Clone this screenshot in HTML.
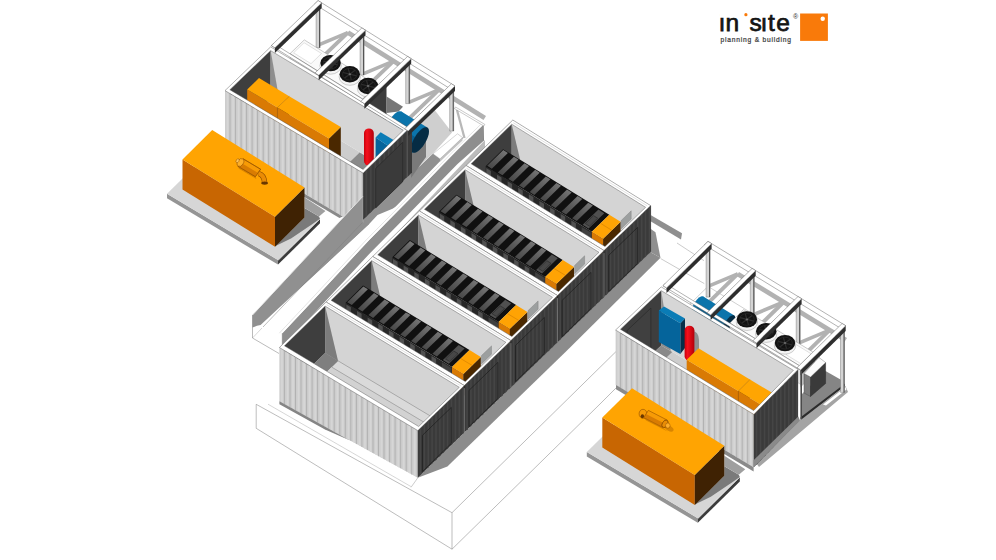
<!DOCTYPE html>
<html><head><meta charset="utf-8"><title>in site planning &amp; building</title>
<style>html,body{margin:0;padding:0;background:#fff;overflow:hidden}svg{display:block}text{font-family:"Liberation Sans",sans-serif}</style></head>
<body>
<svg width="996" height="560" viewBox="0 0 996 560">
<polyline points="256.2,404.3 452.0,512.7 640.0,328.0" fill="none" stroke="#7a7a7a" stroke-width="0.5"/>
<polyline points="256.2,404.3 256.2,428.3 452.0,549.2 452.0,512.7" fill="none" stroke="#7a7a7a" stroke-width="0.5"/>
<polyline points="452.0,549.2 600.0,404.0 640.0,364.0" fill="none" stroke="#7a7a7a" stroke-width="0.5"/>
<line x1="417.8" y1="477.8" x2="411.0" y2="487.3" stroke="#8a8a8a" stroke-width="0.45"/>
<line x1="268.0" y1="404.2" x2="411.0" y2="486.6" stroke="#9a9a9a" stroke-width="0.4"/>
<line x1="677.0" y1="243.0" x2="704.0" y2="260.7" stroke="#8a8a8a" stroke-width="0.45"/>
<line x1="660.7" y1="258.6" x2="704.3" y2="283.6" stroke="#8a8a8a" stroke-width="0.45"/>
<polygon points="485.0,140.0 485.0,149.0 375.0,256.0" fill="#bcbcbc"/>
<polygon points="282.3,333.2 314.0,299.4 369.2,240.0 408.2,200.6 457.5,150.0 483.5,124.6 484.0,140.6 457.5,164.0 408.2,214.6 369.2,254.0 314.0,313.4 282.3,347.2" fill="#8e8e8e"/>
<polygon points="345.0,240.0 363.0,215.0 413.0,171.5 420.0,166.0 433.0,153.5 440.0,158.8 462.5,137.5 471.5,138.0 406.2,200.6 392.5,208.8 377.5,215.0 369.4,223.8 300.0,288.0" fill="#909090"/>
<polygon points="275.8,333.2 307.5,299.4 362.7,240.0 401.7,200.6 451.0,150.0 477.0,124.6 483.5,124.6 457.5,150.0 408.2,200.6 369.2,240.0 314.0,299.4 282.3,333.2" fill="#ffffff"/>
<polyline points="279.3,333.2 311.0,299.4 366.2,240.0 405.2,200.6 454.5,150.0 480.5,124.6" fill="none" stroke="#c9c9c9" stroke-width="0.5"/>
<line x1="282.3" y1="333.2" x2="282.3" y2="345.2" stroke="#777" stroke-width="0.5"/>
<line x1="483.5" y1="124.6" x2="483.5" y2="140.6" stroke="#777" stroke-width="0.4"/>
<polygon points="363.1,221.1 375.1,216.1 420.1,172.4 408.1,177.4" fill="#909090"/>
<polygon points="405.0,128.0 430.0,104.0 452.0,132.5 433.0,153.5 420.0,165.0 411.0,172.0" fill="#cfcfcf"/>
<polygon points="411.0,148.0 426.0,140.0 426.0,157.0 411.0,178.0" fill="#7a7a7a"/>
<polygon points="346.6,34.6 483.5,120.0 486.0,116.0 349.1,30.6" fill="#b2b2b2" stroke="none" stroke-width="0.35" stroke-linejoin="round"/>
<polygon points="318.8,46.8 348.5,34.3 347.2,30.9 317.4,43.4" fill="#b2b2b2" stroke="none" stroke-width="0.35" stroke-linejoin="round"/>
<polygon points="346.5,31.2 316.1,60.5 318.7,63.2 349.2,34.0" fill="#b2b2b2" stroke="none" stroke-width="0.35" stroke-linejoin="round"/>
<polygon points="364.4,75.2 394.2,62.7 392.8,59.4 363.0,71.9" fill="#b2b2b2" stroke="none" stroke-width="0.35" stroke-linejoin="round"/>
<polygon points="392.2,59.7 361.7,88.9 364.4,91.7 394.8,62.4" fill="#b2b2b2" stroke="none" stroke-width="0.35" stroke-linejoin="round"/>
<polygon points="410.1,103.7 439.8,91.2 438.4,87.9 408.7,100.4" fill="#b2b2b2" stroke="none" stroke-width="0.35" stroke-linejoin="round"/>
<polygon points="437.8,88.2 407.4,117.4 410.0,120.2 440.4,90.9" fill="#b2b2b2" stroke="none" stroke-width="0.35" stroke-linejoin="round"/>
<polygon points="316.1,3.2 320.1,3.2 320.1,47.7 316.1,47.7" fill="#d4d4d4" stroke="#666" stroke-width="0.4" stroke-linejoin="round"/>
<polygon points="319.1,3.2 320.1,3.2 320.1,47.7 319.1,47.7" fill="#4a4a4a"/>
<polygon points="360.1,30.6 364.1,30.6 364.1,75.1 360.1,75.1" fill="#d4d4d4" stroke="#666" stroke-width="0.4" stroke-linejoin="round"/>
<polygon points="363.1,30.6 364.1,30.6 364.1,75.1 363.1,75.1" fill="#4a4a4a"/>
<polygon points="405.7,59.1 409.7,59.1 409.7,103.6 405.7,103.6" fill="#d4d4d4" stroke="#666" stroke-width="0.4" stroke-linejoin="round"/>
<polygon points="408.7,59.1 409.7,59.1 409.7,103.6 408.7,103.6" fill="#4a4a4a"/>
<polygon points="449.7,86.6 453.7,86.6 453.7,131.1 449.7,131.1" fill="#d4d4d4" stroke="#666" stroke-width="0.4" stroke-linejoin="round"/>
<polygon points="452.7,86.6 453.7,86.6 453.7,131.1 452.7,131.1" fill="#4a4a4a"/>
<polygon points="290.1,53.6 362.6,98.9 362.6,116.7 290.1,71.4" fill="#e4e4e4" stroke="#999" stroke-width="0.4" stroke-linejoin="round"/>
<polygon points="362.6,98.9 376.9,85.1 376.9,105.2 362.6,118.9" fill="#bdbdbd" stroke="#888" stroke-width="0.4" stroke-linejoin="round"/>
<polygon points="290.1,53.6 304.3,39.9 376.9,85.1 362.6,98.9" fill="#fafafa" stroke="#8a8a8a" stroke-width="0.45" stroke-linejoin="round"/>
<polygon points="293.6,52.8 304.1,42.7 321.5,53.5 311.0,63.7" fill="#ffffff" stroke="#b5b5b5" stroke-width="0.4" stroke-linejoin="round"/>
<ellipse cx="330.6" cy="65.7" rx="10.7" ry="8.5" fill="#f4f4f4" stroke="#8a8a8a" stroke-width="0.4"/>
<ellipse cx="330.6" cy="63.1" rx="10.2" ry="8.2" fill="#131313"/>
<ellipse cx="330.6" cy="63.1" rx="7.3" ry="5.9" fill="none" stroke="#2b2b2b" stroke-width="0.7"/>
<line x1="330.6" y1="63.1" x2="337.4" y2="64.8" stroke="#2e2e2e" stroke-width="1.2"/>
<line x1="330.6" y1="63.1" x2="332.2" y2="68.7" stroke="#2e2e2e" stroke-width="1.2"/>
<line x1="330.6" y1="63.1" x2="325.4" y2="67.0" stroke="#2e2e2e" stroke-width="1.2"/>
<line x1="330.6" y1="63.1" x2="323.8" y2="61.4" stroke="#2e2e2e" stroke-width="1.2"/>
<line x1="330.6" y1="63.1" x2="329.0" y2="57.5" stroke="#2e2e2e" stroke-width="1.2"/>
<line x1="330.6" y1="63.1" x2="335.8" y2="59.2" stroke="#2e2e2e" stroke-width="1.2"/>
<ellipse cx="330.6" cy="63.1" rx="1.3" ry="1.0" fill="#6a6a6a"/>
<ellipse cx="349.8" cy="76.8" rx="10.7" ry="8.5" fill="#f4f4f4" stroke="#8a8a8a" stroke-width="0.4"/>
<ellipse cx="349.8" cy="74.2" rx="10.2" ry="8.2" fill="#131313"/>
<ellipse cx="349.8" cy="74.2" rx="7.3" ry="5.9" fill="none" stroke="#2b2b2b" stroke-width="0.7"/>
<line x1="349.8" y1="74.2" x2="356.6" y2="75.9" stroke="#2e2e2e" stroke-width="1.2"/>
<line x1="349.8" y1="74.2" x2="351.3" y2="79.8" stroke="#2e2e2e" stroke-width="1.2"/>
<line x1="349.8" y1="74.2" x2="344.5" y2="78.1" stroke="#2e2e2e" stroke-width="1.2"/>
<line x1="349.8" y1="74.2" x2="342.9" y2="72.5" stroke="#2e2e2e" stroke-width="1.2"/>
<line x1="349.8" y1="74.2" x2="348.2" y2="68.6" stroke="#2e2e2e" stroke-width="1.2"/>
<line x1="349.8" y1="74.2" x2="355.0" y2="70.3" stroke="#2e2e2e" stroke-width="1.2"/>
<ellipse cx="349.8" cy="74.2" rx="1.3" ry="1.0" fill="#6a6a6a"/>
<ellipse cx="368.1" cy="88.6" rx="10.7" ry="8.5" fill="#f4f4f4" stroke="#8a8a8a" stroke-width="0.4"/>
<ellipse cx="368.1" cy="86.0" rx="10.2" ry="8.2" fill="#131313"/>
<ellipse cx="368.1" cy="86.0" rx="7.3" ry="5.9" fill="none" stroke="#2b2b2b" stroke-width="0.7"/>
<line x1="368.1" y1="86.0" x2="374.9" y2="87.7" stroke="#2e2e2e" stroke-width="1.2"/>
<line x1="368.1" y1="86.0" x2="369.7" y2="91.6" stroke="#2e2e2e" stroke-width="1.2"/>
<line x1="368.1" y1="86.0" x2="362.9" y2="89.9" stroke="#2e2e2e" stroke-width="1.2"/>
<line x1="368.1" y1="86.0" x2="361.3" y2="84.3" stroke="#2e2e2e" stroke-width="1.2"/>
<line x1="368.1" y1="86.0" x2="366.5" y2="80.4" stroke="#2e2e2e" stroke-width="1.2"/>
<line x1="368.1" y1="86.0" x2="373.3" y2="82.1" stroke="#2e2e2e" stroke-width="1.2"/>
<ellipse cx="368.1" cy="86.0" rx="1.3" ry="1.0" fill="#6a6a6a"/>
<polygon points="386.6,96.5 403.0,106.8 398.5,111.5 386.6,113.0" fill="#777777"/>
<polygon points="367.2,104.5 386.5,85.9 386.5,129.0 367.2,147.7" fill="#3c3c3c"/>
<polygon points="403.0,115.4 402.9,114.0 402.6,112.9 402.0,112.0 401.3,111.5 400.4,111.2 399.3,111.3 398.1,111.6 396.8,112.3 395.4,113.3 394.0,114.5 392.6,116.0 391.2,117.6 389.9,119.4 388.7,121.4 387.6,123.4 386.7,125.4 386.0,127.3 385.4,129.2 385.1,131.0 385.0,132.6 385.1,134.0 385.4,135.1 386.0,136.0 386.7,136.5 387.6,136.8 388.7,136.7 389.9,136.4 391.2,135.7 392.6,134.7 394.0,133.5 395.4,132.0 396.8,130.4 398.1,128.6 399.3,126.6 400.4,124.6 401.3,122.6 402.0,120.7 402.6,118.8 402.9,117.0" fill="#0b74ab"/>
<polygon points="427.3,127.5 401.3,111.5 386.7,136.5 412.7,152.5" fill="#0b74ab"/>
<polygon points="412.7,152.5 386.7,136.5 394.0,124.0 420.0,140.0" fill="#075e8f"/>
<polygon points="429.0,131.4 428.9,130.0 428.6,128.9 428.0,128.0 427.3,127.5 426.4,127.2 425.3,127.3 424.1,127.6 422.8,128.3 421.4,129.3 420.0,130.5 418.6,132.0 417.2,133.6 415.9,135.4 414.7,137.4 413.6,139.4 412.7,141.4 412.0,143.3 411.4,145.2 411.1,147.0 411.0,148.6 411.1,150.0 411.4,151.1 412.0,152.0 412.7,152.5 413.6,152.8 414.7,152.7 415.9,152.4 417.2,151.7 418.6,150.7 420.0,149.5 421.4,148.0 422.8,146.4 424.1,144.6 425.3,142.6 426.4,140.6 427.3,138.6 428.0,136.7 428.6,134.8 428.9,133.0" fill="#052c44"/>
<polygon points="229.8,137.7 270.6,98.6 403.3,178.3 363.1,217.4" fill="#cdcdcd"/>
<polygon points="270.6,50.6 403.3,130.3 403.3,178.3 270.6,98.6" fill="#d6d6d6"/>
<polygon points="229.8,89.7 270.6,50.6 270.6,98.6 229.8,137.7" fill="#3e3e3e"/>
<polygon points="270.6,50.6 280.2,104.4 270.6,98.6" fill="#8e8e8e"/>
<polygon points="330.8,180.6 359.7,152.6 372.4,160.2 343.5,188.2" fill="#8a8a8a"/>
<polygon points="247.2,89.5 277.4,107.6 277.4,151.5 247.2,133.4" fill="#d97a04"/>
<polygon points="277.4,107.6 289.2,96.2 289.2,140.1 277.4,151.5" fill="#4a2800"/>
<polygon points="247.2,89.5 259.0,78.1 289.2,96.2 277.4,107.6" fill="#ffa502"/>
<polygon points="277.4,107.6 329.0,138.4 329.0,182.3 277.4,151.5" fill="#d97a04"/>
<polygon points="329.0,138.4 340.8,127.1 340.8,171.0 329.0,182.3" fill="#4a2800"/>
<polygon points="277.4,107.6 289.2,96.2 340.8,127.1 329.0,138.4" fill="#ffa502"/>
<line x1="277.4" y1="107.6" x2="289.2" y2="96.2" stroke="#c97a00" stroke-width="0.5"/>
<line x1="277.4" y1="107.6" x2="277.4" y2="137.1" stroke="#a85c00" stroke-width="0.5"/>
<polygon points="375.6,137.5 388.8,146.2 388.8,170.0 375.6,170.0" fill="#05649b"/>
<polygon points="375.6,137.5 380.6,132.2 394.4,140.6 388.8,146.2" fill="#0a7cb6"/>
<defs><linearGradient id="redg" x1="0" x2="1" y1="0" y2="0"><stop offset="0" stop-color="#c8000c"/><stop offset="0.3" stop-color="#f5101c"/><stop offset="1" stop-color="#b4000a"/></linearGradient></defs>
<rect x="364" y="128.5" width="9.8" height="37" rx="4.9" ry="4.5" fill="url(#redg)"/>
<polygon points="225.0,90.6 363.1,173.1 363.1,228.6 225.0,146.1" fill="#cdcdcd"/>
<polygon points="226.7,91.6 228.4,92.6 228.4,148.1 226.7,147.1" fill="#d6d6d6"/>
<polygon points="229.5,93.3 230.5,93.9 230.5,149.4 229.5,148.8" fill="#b2b2b2"/>
<polygon points="232.2,94.9 233.9,95.9 233.9,151.4 232.2,150.4" fill="#d6d6d6"/>
<polygon points="235.1,96.6 236.0,97.2 236.0,152.7 235.1,152.1" fill="#b2b2b2"/>
<polygon points="237.7,98.2 239.5,99.2 239.5,154.7 237.7,153.7" fill="#d6d6d6"/>
<polygon points="240.6,99.9 241.6,100.5 241.6,156.0 240.6,155.4" fill="#b2b2b2"/>
<polygon points="243.2,101.5 245.0,102.5 245.0,158.0 243.2,157.0" fill="#d6d6d6"/>
<polygon points="246.1,103.2 247.1,103.8 247.1,159.3 246.1,158.7" fill="#b2b2b2"/>
<polygon points="248.8,104.8 250.5,105.8 250.5,161.3 248.8,160.3" fill="#d6d6d6"/>
<polygon points="251.6,106.5 252.6,107.1 252.6,162.6 251.6,162.0" fill="#b2b2b2"/>
<polygon points="254.3,108.1 256.0,109.1 256.0,164.6 254.3,163.6" fill="#d6d6d6"/>
<polygon points="257.1,109.8 258.1,110.4 258.1,165.9 257.1,165.3" fill="#b2b2b2"/>
<polygon points="259.8,111.4 261.6,112.4 261.6,167.9 259.8,166.9" fill="#d6d6d6"/>
<polygon points="262.7,113.1 263.7,113.7 263.7,169.2 262.7,168.6" fill="#b2b2b2"/>
<polygon points="265.3,114.7 267.1,115.7 267.1,171.2 265.3,170.2" fill="#d6d6d6"/>
<polygon points="268.2,116.4 269.2,117.0 269.2,172.5 268.2,171.9" fill="#b2b2b2"/>
<polygon points="270.8,118.0 272.6,119.0 272.6,174.5 270.8,173.5" fill="#d6d6d6"/>
<polygon points="273.7,119.7 274.7,120.3 274.7,175.8 273.7,175.2" fill="#b2b2b2"/>
<polygon points="276.4,121.3 278.1,122.3 278.1,177.8 276.4,176.8" fill="#d6d6d6"/>
<polygon points="279.2,123.0 280.2,123.6 280.2,179.1 279.2,178.5" fill="#b2b2b2"/>
<polygon points="281.9,124.6 283.7,125.6 283.7,181.1 281.9,180.1" fill="#d6d6d6"/>
<polygon points="284.8,126.3 285.8,126.9 285.8,182.4 284.8,181.8" fill="#b2b2b2"/>
<polygon points="287.4,127.9 289.2,128.9 289.2,184.4 287.4,183.4" fill="#d6d6d6"/>
<polygon points="290.3,129.6 291.3,130.2 291.3,185.7 290.3,185.1" fill="#b2b2b2"/>
<polygon points="292.9,131.2 294.7,132.2 294.7,187.7 292.9,186.7" fill="#d6d6d6"/>
<polygon points="295.8,132.9 296.8,133.5 296.8,189.0 295.8,188.4" fill="#b2b2b2"/>
<polygon points="298.5,134.5 300.2,135.5 300.2,191.0 298.5,190.0" fill="#d6d6d6"/>
<polygon points="301.3,136.2 302.3,136.8 302.3,192.3 301.3,191.7" fill="#b2b2b2"/>
<polygon points="304.0,137.8 305.8,138.8 305.8,194.3 304.0,193.3" fill="#d6d6d6"/>
<polygon points="306.9,139.5 307.9,140.1 307.9,195.6 306.9,195.0" fill="#b2b2b2"/>
<polygon points="309.5,141.1 311.3,142.1 311.3,197.6 309.5,196.6" fill="#d6d6d6"/>
<polygon points="312.4,142.8 313.4,143.4 313.4,198.9 312.4,198.3" fill="#b2b2b2"/>
<polygon points="315.0,144.4 316.8,145.4 316.8,200.9 315.0,199.9" fill="#d6d6d6"/>
<polygon points="317.9,146.1 318.9,146.7 318.9,202.2 317.9,201.6" fill="#b2b2b2"/>
<polygon points="320.6,147.7 322.3,148.7 322.3,204.2 320.6,203.2" fill="#d6d6d6"/>
<polygon points="323.4,149.4 324.4,150.0 324.4,205.5 323.4,204.9" fill="#b2b2b2"/>
<polygon points="326.1,151.0 327.9,152.0 327.9,207.5 326.1,206.5" fill="#d6d6d6"/>
<polygon points="329.0,152.7 330.0,153.3 330.0,208.8 329.0,208.2" fill="#b2b2b2"/>
<polygon points="331.6,154.3 333.4,155.3 333.4,210.8 331.6,209.8" fill="#d6d6d6"/>
<polygon points="334.5,156.0 335.5,156.6 335.5,212.1 334.5,211.5" fill="#b2b2b2"/>
<polygon points="337.1,157.6 338.9,158.6 338.9,214.1 337.1,213.1" fill="#d6d6d6"/>
<polygon points="340.0,159.3 341.0,159.9 341.0,215.4 340.0,214.8" fill="#b2b2b2"/>
<polygon points="342.7,160.9 344.4,161.9 344.4,217.4 342.7,216.4" fill="#d6d6d6"/>
<polygon points="345.5,162.6 346.5,163.2 346.5,218.7 345.5,218.1" fill="#b2b2b2"/>
<polygon points="348.2,164.2 350.0,165.2 350.0,220.7 348.2,219.7" fill="#d6d6d6"/>
<polygon points="351.1,165.9 352.1,166.5 352.1,222.0 351.1,221.4" fill="#b2b2b2"/>
<polygon points="353.7,167.5 355.5,168.5 355.5,224.0 353.7,223.0" fill="#d6d6d6"/>
<polygon points="356.6,169.2 357.6,169.8 357.6,225.3 356.6,224.7" fill="#b2b2b2"/>
<polygon points="359.2,170.8 361.0,171.8 361.0,227.3 359.2,226.3" fill="#d6d6d6"/>
<polygon points="362.1,172.5 363.1,173.1 363.1,228.6 362.1,228.0" fill="#b2b2b2"/>
<polygon points="363.1,173.1 408.1,129.4 408.1,176.0 363.1,219.7" fill="#3a3a3a"/>
<polygon points="365.4,170.9 367.2,169.2 367.2,215.7 365.4,217.5" fill="#454545"/>
<polygon points="369.9,166.5 371.7,164.8 371.7,211.4 369.9,213.1" fill="#454545"/>
<polygon points="374.4,162.2 376.1,160.4 376.1,207.0 374.4,208.7" fill="#454545"/>
<polygon points="378.9,157.8 380.7,156.1 380.7,202.6 378.9,204.4" fill="#454545"/>
<polygon points="383.4,153.4 385.2,151.7 385.2,198.2 383.4,200.0" fill="#454545"/>
<polygon points="387.9,149.1 389.7,147.3 389.7,193.9 387.9,195.6" fill="#454545"/>
<polygon points="392.4,144.7 394.2,142.9 394.2,189.5 392.4,191.3" fill="#454545"/>
<polygon points="396.9,140.3 398.7,138.6 398.7,185.1 396.9,186.9" fill="#454545"/>
<polygon points="401.4,136.0 403.1,134.2 403.1,180.8 401.4,182.5" fill="#454545"/>
<polygon points="405.9,131.6 407.7,129.8 407.7,176.4 405.9,178.1" fill="#454545"/>
<polygon points="375.7,168.5 402.7,142.3 402.7,181.7 375.7,207.9" fill="#3a3a3a" stroke="#262626" stroke-width="0.7" stroke-linejoin="round"/>
<line x1="408.1" y1="129.4" x2="408.1" y2="177.4" stroke="#9a9a9a" stroke-width="1.0"/>
<polygon points="300.0,190.9 342.8,216.4 339.5,218.1 300.0,194.6" fill="#8a8a8a"/>
<polygon points="407.6,130.0 412.0,132.6 412.0,172.6 407.6,177.0" fill="#3a3a3a"/>
<path d="M225.0 90.6 L270.6 46.9 L408.1 129.4 L363.1 173.1 Z M229.8 89.7 L270.6 50.6 L403.3 130.3 L363.1 169.4 Z" fill="#ffffff" fill-rule="evenodd" stroke="#555" stroke-width="0.45" stroke-linejoin="miter"/>
<polygon points="314.5,4.1 318.1,0.6 455.0,86.0 451.4,89.5" fill="#ffffff" stroke="#555" stroke-width="0.45" stroke-linejoin="round"/>
<polygon points="271.3,45.6 273.5,43.5 410.4,128.9 408.2,131.0" fill="#ffffff" stroke="#555" stroke-width="0.45" stroke-linejoin="round"/>
<polygon points="274.9,47.8 321.7,2.8 321.7,8.0 274.9,53.0" fill="#2e2e2e"/>
<polygon points="271.3,45.6 318.1,0.6 321.7,2.8 274.9,47.8" fill="#ffffff" stroke="#555" stroke-width="0.45" stroke-linejoin="round"/>
<polygon points="318.7,75.2 365.5,30.2 365.5,35.3 318.7,80.3" fill="#2e2e2e"/>
<polygon points="315.1,72.9 361.9,27.9 365.5,30.2 318.7,75.2" fill="#ffffff" stroke="#555" stroke-width="0.45" stroke-linejoin="round"/>
<polygon points="364.4,103.7 411.2,58.7 411.2,63.8 364.4,108.8" fill="#2e2e2e"/>
<polygon points="360.8,101.4 407.6,56.4 411.2,58.7 364.4,103.7" fill="#ffffff" stroke="#555" stroke-width="0.45" stroke-linejoin="round"/>
<polygon points="408.2,131.0 455.0,86.0 455.0,91.1 408.2,136.1" fill="#2e2e2e"/>
<polygon points="404.6,128.8 451.4,83.8 455.0,86.0 408.2,131.0" fill="#ffffff" stroke="#555" stroke-width="0.45" stroke-linejoin="round"/>
<polygon points="440.0,158.8 462.5,137.5 462.5,140.5 440.0,161.8" fill="#c2c2c2"/>
<polygon points="433.0,153.8 457.5,133.8 462.5,137.5 440.0,158.8" fill="#ffffff" stroke="#999" stroke-width="0.4" stroke-linejoin="round"/>
<polygon points="455.9,110.3 463.4,138.3 465.6,137.7 458.1,109.7" fill="#b8b8b8" stroke="none" stroke-width="0.35" stroke-linejoin="round"/>
<polygon points="454.5,108.6 483.8,126.0 484.8,124.4 455.5,107.0" fill="#ffffff" stroke="#666" stroke-width="0.35" stroke-linejoin="round"/>
<polygon points="167.0,193.8 278.0,260.0 278.0,264.6 167.0,198.3" fill="#959595"/>
<polygon points="278.0,260.0 320.0,218.8 320.0,223.3 278.0,264.6" fill="#3c3c3c"/>
<polygon points="167.0,193.8 209.0,152.5 320.0,218.8 278.0,260.0" fill="#d6d6d6"/>
<line x1="278.3" y1="260.2" x2="320.0" y2="218.9" stroke="#f4f4f4" stroke-width="0.7"/>
<polygon points="275.0,246.2 304.5,217.5 304.5,208.0 319.0,216.6 320.0,218.7 311.0,225.0 291.0,238.5" fill="#7a7a7a"/>
<polygon points="304.6,197.5 325.5,211.0 319.0,216.6 304.6,208.0" fill="#9f9f9f"/>
<polygon points="182.5,159.4 275.0,216.8 275.0,246.8 182.5,189.4" fill="#c86602"/>
<polygon points="275.0,216.8 304.5,187.5 304.5,217.5 275.0,246.8" fill="#3f2203"/>
<polygon points="182.5,159.4 212.2,130.0 304.5,187.5 275.0,216.8" fill="#ffa402"/>
<polygon points="238.9,168.7 256.4,179.1 255.4,176.6 237.9,166.2" fill="#d98500"/>
<polygon points="243.1,158.8 260.6,169.2 255.4,176.6 237.9,166.2" fill="#f79b06" stroke="#8a4a00" stroke-width="0.55" stroke-linejoin="round"/>
<polygon points="240.5,162.5 258.0,172.9 255.4,176.6 237.9,166.2" fill="#d97c02"/>
<polygon points="243.1,158.8 260.6,169.2 255.4,176.6 237.9,166.2" fill="none" stroke="#8a4a00" stroke-width="0.55" stroke-linejoin="round"/>
<ellipse cx="240.5" cy="162.5" rx="2.9" ry="4.2" fill="#ffb028" stroke="#8a4a00" stroke-width="0.5" transform="rotate(32 240.5 162.5)"/>
<ellipse cx="237.6" cy="160.7" rx="1.4" ry="2.1" fill="#ffc45a" stroke="#8a4a00" stroke-width="0.45" transform="rotate(32 237.6 160.7)"/>
<path d="M258.6 173.5 q5.5 1.5 6 9" fill="none" stroke="#8a4a00" stroke-width="5.4" stroke-linecap="butt"/>
<path d="M258.6 173.5 q5.5 1.5 6 9" fill="none" stroke="#ea8c04" stroke-width="4.2" stroke-linecap="butt"/>
<ellipse cx="264.6" cy="183.1" rx="3.4" ry="1.7" fill="#6a3800"/>
<polygon points="252.5,315.0 362.8,196.4 362.8,222.5 369.4,223.8 260.6,325.0 257.0,325.8 252.5,327.5" fill="#909090"/>
<line x1="362.5" y1="222.5" x2="263.0" y2="327.0" stroke="#7f7f7f" stroke-width="0.5"/>
<polyline points="252.5,315.0 252.5,338.0 279.0,353.5" fill="none" stroke="#777" stroke-width="0.5"/>
<line x1="252.5" y1="338.0" x2="262.0" y2="328.0" stroke="#999" stroke-width="0.4"/>
<line x1="252.5" y1="315.0" x2="362.8" y2="196.4" stroke="#e8e8e8" stroke-width="0.9"/>
<defs><linearGradient id="rackg" gradientUnits="objectBoundingBox" x1="0" y1="1" x2="1" y2="0"><stop offset="0" stop-color="#444"/><stop offset="0.5" stop-color="#5c5c5c"/><stop offset="1" stop-color="#7a7a7a"/></linearGradient></defs>
<polygon points="417.8,477.8 447.4,466.4 565.5,352.0 660.5,257.8 650.1,251.9" fill="#8c8c8c"/>
<polygon points="650.1,221.0 651.0,215.2 682.0,233.2 681.0,239.6" fill="#8f8f8f"/>
<polygon points="650.1,228.6 655.5,232.3 660.5,257.8 650.1,251.9" fill="#8f8f8f"/>
<polygon points="466.1,165.5 512.8,120.0 650.6,205.6 604.0,250.6" fill="#d4d4d4"/>
<polygon points="471.1,210.8 511.7,171.2 645.6,253.3 605.0,292.9" fill="#dadada"/>
<polygon points="511.7,124.2 645.6,207.3 645.6,253.3 511.7,171.2" fill="#d4d4d4"/>
<polygon points="471.1,163.8 511.7,124.2 511.7,171.2 471.1,210.8" fill="#3e3e3e"/>
<polygon points="471.1,210.8 511.7,171.2 524.7,179.1 484.1,218.8" fill="#5a5a5a"/>
<polygon points="511.7,124.2 524.7,179.1 511.7,171.2" fill="#7c7c7c"/>
<polygon points="485.6,166.2 603.1,238.7 603.1,254.5 485.6,182.2" fill="#262626"/>
<polygon points="485.6,166.2 503.1,149.2 609.3,214.8 591.8,231.8" fill="#101010"/>
<polygon points="487.2,165.8 503.3,150.1 507.9,153.0 491.8,168.7" fill="url(#rackg)"/>
<polygon points="486.3,168.1 490.9,170.9 490.9,177.0 486.3,174.2" fill="#505050"/>
<polygon points="486.0,174.9 495.8,181.0 495.8,188.5 486.0,182.5" fill="#343434"/>
<polygon points="497.8,172.4 513.9,156.7 518.5,159.5 502.4,175.2" fill="url(#rackg)"/>
<polygon points="497.0,174.7 501.5,177.5 501.5,183.6 497.0,180.8" fill="#505050"/>
<polygon points="496.6,181.5 506.4,187.5 506.4,195.0 496.6,189.0" fill="#343434"/>
<polygon points="508.4,178.9 524.5,163.3 529.1,166.1 513.0,181.8" fill="url(#rackg)"/>
<polygon points="507.6,181.2 512.1,184.0 512.1,190.1 507.6,187.3" fill="#505050"/>
<polygon points="507.3,188.0 517.0,194.1 517.0,201.6 507.3,195.5" fill="#343434"/>
<polygon points="519.1,185.5 535.2,169.8 539.7,172.7 523.6,188.3" fill="url(#rackg)"/>
<polygon points="518.2,187.8 522.8,190.6 522.8,196.7 518.2,193.8" fill="#505050"/>
<polygon points="517.9,194.6 527.6,200.6 527.6,208.1 517.9,202.1" fill="#343434"/>
<polygon points="529.7,192.1 545.8,176.4 550.3,179.2 534.3,194.9" fill="url(#rackg)"/>
<polygon points="528.8,194.3 533.4,197.1 533.4,203.2 528.8,200.4" fill="#505050"/>
<polygon points="528.5,201.1 538.3,207.1 538.3,214.6 528.5,208.6" fill="#343434"/>
<polygon points="540.3,198.6 556.4,183.0 561.0,185.8 544.9,201.4" fill="url(#rackg)"/>
<polygon points="539.4,200.9 544.0,203.7 544.0,209.7 539.4,206.9" fill="#505050"/>
<polygon points="539.1,207.7 548.9,213.7 548.9,221.2 539.1,215.1" fill="#343434"/>
<polygon points="550.9,205.2 567.0,189.5 571.6,192.4 555.5,208.0" fill="url(#rackg)"/>
<polygon points="550.1,207.4 554.6,210.2 554.6,216.3 550.1,213.5" fill="#505050"/>
<polygon points="549.7,214.2 559.5,220.2 559.5,227.7 549.7,221.7" fill="#343434"/>
<polygon points="561.5,211.7 577.6,196.1 582.2,198.9 566.1,214.5" fill="url(#rackg)"/>
<polygon points="560.7,214.0 565.2,216.8 565.2,222.8 560.7,220.0" fill="#505050"/>
<polygon points="560.4,220.8 570.1,226.8 570.1,234.2 560.4,228.2" fill="#343434"/>
<polygon points="572.2,218.3 588.2,202.7 592.8,205.5 576.7,221.1" fill="url(#rackg)"/>
<polygon points="571.3,220.5 575.9,223.3 575.9,229.4 571.3,226.6" fill="#505050"/>
<polygon points="571.0,227.3 580.7,233.3 580.7,240.8 571.0,234.8" fill="#343434"/>
<polygon points="582.7,224.8 598.4,209.5 604.3,213.2 588.6,228.4" fill="#505050"/>
<polygon points="585.3,223.6 593.5,215.6 597.7,218.2 589.5,226.2" fill="#474747" stroke="#1e1e1e" stroke-width="0.5" stroke-linejoin="round"/>
<polygon points="581.7,226.9 591.3,232.8 591.3,247.2 581.7,241.4" fill="#404040"/>
<polygon points="591.8,231.8 603.1,238.7 603.1,261.5 591.8,254.5" fill="#d97a04"/>
<polygon points="603.1,238.7 620.6,221.8 620.6,244.5 603.1,261.5" fill="#4a2800"/>
<polygon points="591.8,231.8 609.3,214.8 620.6,221.8 603.1,238.7" fill="#ffa304"/>
<line x1="600.5" y1="223.3" x2="611.8" y2="230.3" stroke="#c97400" stroke-width="0.5"/>
<polygon points="621.2,220.5 631.2,210.8 631.2,219.1 621.2,228.8" fill="#9c9f9f" stroke="#7a7a7a" stroke-width="0.4" stroke-linejoin="round"/>
<polygon points="604.0,250.6 650.6,205.6 650.6,251.9 604.0,297.1" fill="#3a3a3a"/>
<polygon points="606.0,248.7 607.5,247.2 607.5,293.7 606.0,295.2" fill="#454545"/>
<polygon points="609.9,245.0 611.4,243.5 611.4,289.9 609.9,291.4" fill="#454545"/>
<polygon points="613.7,241.2 615.3,239.7 615.3,286.2 613.7,287.7" fill="#454545"/>
<polygon points="617.6,237.5 619.2,236.0 619.2,282.4 617.6,283.9" fill="#454545"/>
<polygon points="621.5,233.7 623.0,232.2 623.0,278.6 621.5,280.1" fill="#454545"/>
<polygon points="625.4,230.0 626.9,228.5 626.9,274.9 625.4,276.4" fill="#454545"/>
<polygon points="629.3,226.2 630.8,224.7 630.8,271.1 629.3,272.6" fill="#454545"/>
<polygon points="633.1,222.5 634.7,221.0 634.7,267.3 633.1,268.8" fill="#454545"/>
<polygon points="637.0,218.7 638.6,217.2 638.6,263.6 637.0,265.1" fill="#454545"/>
<polygon points="640.9,215.0 642.5,213.5 642.5,259.8 640.9,261.3" fill="#454545"/>
<polygon points="644.8,211.2 646.3,209.7 646.3,256.0 644.8,257.5" fill="#454545"/>
<polygon points="648.7,207.5 650.2,206.0 650.2,252.3 648.7,253.8" fill="#454545"/>
<polygon points="608.7,255.4 637.6,227.4 637.6,263.4 608.7,291.6" fill="none" stroke="#1c1c1c" stroke-width="0.7" stroke-linejoin="round"/>
<line x1="650.6" y1="205.6" x2="650.6" y2="251.6" stroke="#222" stroke-width="0.6"/>
<path d="M466.1 165.5 L512.8 120.0 L650.6 205.6 L604.0 250.6 Z M471.1 163.8 L511.7 124.2 L645.6 207.3 L605.0 246.5 Z" fill="#ffffff" fill-rule="evenodd" stroke="#555" stroke-width="0.45" stroke-linejoin="miter"/>
<line x1="513.2" y1="122.7" x2="647.1" y2="205.8" stroke="#b5b5b5" stroke-width="0.4"/>
<polygon points="419.4,211.0 466.1,165.5 604.0,250.6 557.5,295.6" fill="#d4d4d4"/>
<polygon points="424.4,256.3 465.1,216.6 599.0,298.3 558.5,338.0" fill="#dadada"/>
<polygon points="465.1,169.7 599.0,252.3 599.0,298.3 465.1,216.6" fill="#d4d4d4"/>
<polygon points="424.4,209.3 465.1,169.7 465.1,216.6 424.4,256.3" fill="#3e3e3e"/>
<polygon points="424.4,256.3 465.1,216.6 478.1,224.6 437.4,264.2" fill="#5a5a5a"/>
<polygon points="465.1,169.7 478.1,224.6 465.1,216.6" fill="#7c7c7c"/>
<polygon points="438.9,211.7 556.5,283.8 556.5,299.6 438.9,227.7" fill="#262626"/>
<polygon points="438.9,211.7 456.4,194.7 562.7,259.9 545.2,276.9" fill="#101010"/>
<polygon points="440.5,211.3 456.6,195.6 461.2,198.4 445.1,214.1" fill="url(#rackg)"/>
<polygon points="439.7,213.6 444.2,216.4 444.2,222.5 439.7,219.7" fill="#505050"/>
<polygon points="439.3,220.4 449.1,226.4 449.1,233.9 439.3,227.9" fill="#343434"/>
<polygon points="451.2,217.8 467.3,202.1 471.8,205.0 455.7,220.6" fill="url(#rackg)"/>
<polygon points="450.3,220.1 454.9,222.9 454.9,229.0 450.3,226.2" fill="#505050"/>
<polygon points="450.0,226.9 459.8,232.9 459.8,240.4 450.0,234.4" fill="#343434"/>
<polygon points="461.8,224.3 477.9,208.7 482.5,211.5 466.4,227.1" fill="url(#rackg)"/>
<polygon points="460.9,226.6 465.5,229.4 465.5,235.5 460.9,232.7" fill="#505050"/>
<polygon points="460.6,233.4 470.4,239.4 470.4,246.9 460.6,240.9" fill="#343434"/>
<polygon points="472.4,230.9 488.5,215.2 493.1,218.0 477.0,233.7" fill="url(#rackg)"/>
<polygon points="471.5,233.1 476.1,235.9 476.1,242.0 471.5,239.2" fill="#505050"/>
<polygon points="471.2,239.9 481.0,245.9 481.0,253.4 471.2,247.4" fill="#343434"/>
<polygon points="483.1,237.4 499.1,221.7 503.7,224.5 487.6,240.2" fill="url(#rackg)"/>
<polygon points="482.2,239.6 486.7,242.4 486.7,248.5 482.2,245.7" fill="#505050"/>
<polygon points="481.9,246.4 491.6,252.4 491.6,259.9 481.9,253.9" fill="#343434"/>
<polygon points="493.7,243.9 509.8,228.3 514.3,231.1 498.2,246.7" fill="url(#rackg)"/>
<polygon points="492.8,246.1 497.4,248.9 497.4,255.0 492.8,252.2" fill="#505050"/>
<polygon points="492.5,253.0 502.3,258.9 502.3,266.4 492.5,260.4" fill="#343434"/>
<polygon points="504.3,250.4 520.4,234.8 525.0,237.6 508.9,253.2" fill="url(#rackg)"/>
<polygon points="503.4,252.7 508.0,255.5 508.0,261.5 503.4,258.7" fill="#505050"/>
<polygon points="503.1,259.5 512.9,265.4 512.9,272.9 503.1,266.9" fill="#343434"/>
<polygon points="514.9,256.9 531.0,241.3 535.6,244.1 519.5,259.7" fill="url(#rackg)"/>
<polygon points="514.1,259.2 518.6,262.0 518.6,268.0 514.1,265.2" fill="#505050"/>
<polygon points="513.7,266.0 523.5,272.0 523.5,279.4 513.7,273.4" fill="#343434"/>
<polygon points="525.6,263.4 541.6,247.8 546.2,250.6 530.1,266.2" fill="url(#rackg)"/>
<polygon points="524.7,265.7 529.3,268.5 529.3,274.5 524.7,271.7" fill="#505050"/>
<polygon points="524.4,272.5 534.1,278.5 534.1,285.9 524.4,279.9" fill="#343434"/>
<polygon points="536.1,269.9 551.8,254.6 557.8,258.3 542.0,273.5" fill="#505050"/>
<polygon points="538.7,268.7 546.9,260.7 551.1,263.4 542.9,271.3" fill="#474747" stroke="#1e1e1e" stroke-width="0.5" stroke-linejoin="round"/>
<polygon points="535.1,272.1 544.7,277.9 544.7,292.3 535.1,286.5" fill="#404040"/>
<polygon points="545.2,276.9 556.5,283.8 556.5,306.5 545.2,299.6" fill="#d97a04"/>
<polygon points="556.5,283.8 574.0,266.9 574.0,289.5 556.5,306.5" fill="#4a2800"/>
<polygon points="545.2,276.9 562.7,259.9 574.0,266.9 556.5,283.8" fill="#ffa304"/>
<line x1="553.9" y1="268.4" x2="565.3" y2="275.3" stroke="#c97400" stroke-width="0.5"/>
<polygon points="574.6,265.5 584.6,255.8 584.6,264.1 574.6,273.8" fill="#9c9f9f" stroke="#7a7a7a" stroke-width="0.4" stroke-linejoin="round"/>
<polygon points="557.5,295.6 604.0,250.6 604.0,297.1 557.5,342.3" fill="#3a3a3a"/>
<polygon points="559.4,293.7 561.0,292.2 561.0,338.9 559.4,340.4" fill="#454545"/>
<polygon points="563.3,290.0 564.8,288.5 564.8,335.1 563.3,336.6" fill="#454545"/>
<polygon points="567.2,286.2 568.7,284.7 568.7,331.3 567.2,332.8" fill="#454545"/>
<polygon points="571.0,282.5 572.6,281.0 572.6,327.6 571.0,329.1" fill="#454545"/>
<polygon points="574.9,278.7 576.5,277.2 576.5,323.8 574.9,325.3" fill="#454545"/>
<polygon points="578.8,275.0 580.4,273.5 580.4,320.0 578.8,321.6" fill="#454545"/>
<polygon points="582.7,271.2 584.2,269.7 584.2,316.3 582.7,317.8" fill="#454545"/>
<polygon points="586.6,267.5 588.1,266.0 588.1,312.5 586.6,314.0" fill="#454545"/>
<polygon points="590.4,263.7 592.0,262.2 592.0,308.8 590.4,310.3" fill="#454545"/>
<polygon points="594.3,260.0 595.9,258.5 595.9,305.0 594.3,306.5" fill="#454545"/>
<polygon points="598.2,256.2 599.8,254.7 599.8,301.2 598.2,302.7" fill="#454545"/>
<polygon points="602.1,252.5 603.6,251.0 603.6,297.5 602.1,299.0" fill="#454545"/>
<polygon points="562.1,300.4 591.0,272.4 591.0,308.4 562.1,336.6" fill="none" stroke="#1c1c1c" stroke-width="0.7" stroke-linejoin="round"/>
<line x1="604.0" y1="250.6" x2="604.0" y2="296.6" stroke="#222" stroke-width="0.6"/>
<path d="M419.4 211.0 L466.1 165.5 L604.0 250.6 L557.5 295.6 Z M424.4 209.3 L465.1 169.7 L599.0 252.3 L558.5 291.5 Z" fill="#ffffff" fill-rule="evenodd" stroke="#555" stroke-width="0.45" stroke-linejoin="miter"/>
<line x1="466.6" y1="168.2" x2="600.5" y2="250.8" stroke="#b5b5b5" stroke-width="0.4"/>
<polygon points="372.7,256.5 419.4,211.0 557.5,295.6 510.9,340.6" fill="#d4d4d4"/>
<polygon points="377.7,301.8 418.4,262.1 552.5,343.3 511.9,383.0" fill="#dadada"/>
<polygon points="418.4,215.1 552.5,297.3 552.5,343.3 418.4,262.1" fill="#d4d4d4"/>
<polygon points="377.7,254.8 418.4,215.1 418.4,262.1 377.7,301.8" fill="#3e3e3e"/>
<polygon points="377.7,301.8 418.4,262.1 431.4,270.0 390.7,309.7" fill="#5a5a5a"/>
<polygon points="418.4,215.1 431.4,270.0 418.4,262.1" fill="#7c7c7c"/>
<polygon points="392.3,257.2 509.9,328.8 509.9,344.6 392.3,273.2" fill="#262626"/>
<polygon points="392.3,257.2 409.8,240.1 516.1,305.0 498.6,322.0" fill="#101010"/>
<polygon points="393.9,256.8 410.0,241.1 414.5,243.9 398.4,259.6" fill="url(#rackg)"/>
<polygon points="393.0,259.0 397.6,261.8 397.6,267.9 393.0,265.2" fill="#505050"/>
<polygon points="392.7,265.9 402.5,271.9 402.5,279.4 392.7,273.4" fill="#343434"/>
<polygon points="404.5,263.3 420.6,247.6 425.2,250.4 409.1,266.0" fill="url(#rackg)"/>
<polygon points="403.6,265.5 408.2,268.3 408.2,274.4 403.6,271.6" fill="#505050"/>
<polygon points="403.3,272.4 413.1,278.3 413.1,285.8 403.3,279.9" fill="#343434"/>
<polygon points="415.1,269.7 431.2,254.1 435.8,256.9 419.7,272.5" fill="url(#rackg)"/>
<polygon points="414.3,272.0 418.8,274.8 418.8,280.9 414.3,278.1" fill="#505050"/>
<polygon points="414.0,278.8 423.7,284.8 423.7,292.3 414.0,286.3" fill="#343434"/>
<polygon points="425.8,276.2 441.9,260.6 446.4,263.3 430.4,279.0" fill="url(#rackg)"/>
<polygon points="424.9,278.5 429.5,281.3 429.5,287.3 424.9,284.6" fill="#505050"/>
<polygon points="424.6,285.3 434.4,291.3 434.4,298.7 424.6,292.8" fill="#343434"/>
<polygon points="436.4,282.7 452.5,267.0 457.1,269.8 441.0,285.5" fill="url(#rackg)"/>
<polygon points="435.5,284.9 440.1,287.7 440.1,293.8 435.5,291.0" fill="#505050"/>
<polygon points="435.2,291.8 445.0,297.7 445.0,305.2 435.2,299.3" fill="#343434"/>
<polygon points="447.1,289.2 463.1,273.5 467.7,276.3 451.6,292.0" fill="url(#rackg)"/>
<polygon points="446.2,291.4 450.8,294.2 450.8,300.3 446.2,297.5" fill="#505050"/>
<polygon points="445.9,298.2 455.6,304.2 455.6,311.7 445.9,305.7" fill="#343434"/>
<polygon points="457.7,295.6 473.8,280.0 478.3,282.8 462.3,298.4" fill="url(#rackg)"/>
<polygon points="456.8,297.9 461.4,300.7 461.4,306.7 456.8,304.0" fill="#505050"/>
<polygon points="456.5,304.7 466.3,310.7 466.3,318.1 456.5,312.2" fill="#343434"/>
<polygon points="468.3,302.1 484.4,286.5 489.0,289.3 472.9,304.9" fill="url(#rackg)"/>
<polygon points="467.4,304.4 472.0,307.2 472.0,313.2 467.4,310.4" fill="#505050"/>
<polygon points="467.1,311.2 476.9,317.1 476.9,324.6 467.1,318.6" fill="#343434"/>
<polygon points="479.0,308.6 495.0,293.0 499.6,295.8 483.5,311.4" fill="url(#rackg)"/>
<polygon points="478.1,310.8 482.7,313.6 482.7,319.7 478.1,316.9" fill="#505050"/>
<polygon points="477.8,317.6 487.5,323.6 487.5,331.0 477.8,325.1" fill="#343434"/>
<polygon points="489.5,315.0 505.2,299.8 511.2,303.4 495.4,318.6" fill="#505050"/>
<polygon points="492.1,313.8 500.3,305.9 504.6,308.5 496.3,316.4" fill="#474747" stroke="#1e1e1e" stroke-width="0.5" stroke-linejoin="round"/>
<polygon points="488.5,317.2 498.1,323.0 498.1,337.4 488.5,331.6" fill="#404040"/>
<polygon points="498.6,322.0 509.9,328.8 509.9,351.6 498.6,344.7" fill="#d97a04"/>
<polygon points="509.9,328.8 527.4,311.9 527.4,334.6 509.9,351.6" fill="#4a2800"/>
<polygon points="498.6,322.0 516.1,305.0 527.4,311.9 509.9,328.8" fill="#ffa304"/>
<line x1="507.3" y1="313.5" x2="518.7" y2="320.4" stroke="#c97400" stroke-width="0.5"/>
<polygon points="528.1,310.6 538.1,300.9 538.1,309.2 528.1,318.9" fill="#9c9f9f" stroke="#7a7a7a" stroke-width="0.4" stroke-linejoin="round"/>
<polygon points="510.9,340.6 557.5,295.6 557.5,342.3 510.9,387.4" fill="#3a3a3a"/>
<polygon points="512.8,338.7 514.4,337.2 514.4,384.1 512.8,385.6" fill="#454545"/>
<polygon points="516.7,335.0 518.3,333.5 518.3,380.3 516.7,381.8" fill="#454545"/>
<polygon points="520.6,331.2 522.1,329.7 522.1,376.5 520.6,378.0" fill="#454545"/>
<polygon points="524.5,327.5 526.0,326.0 526.0,372.8 524.5,374.3" fill="#454545"/>
<polygon points="528.4,323.7 529.9,322.2 529.9,369.0 528.4,370.5" fill="#454545"/>
<polygon points="532.2,320.0 533.8,318.5 533.8,365.2 532.2,366.7" fill="#454545"/>
<polygon points="536.1,316.2 537.7,314.7 537.7,361.5 536.1,363.0" fill="#454545"/>
<polygon points="540.0,312.5 541.5,311.0 541.5,357.7 540.0,359.2" fill="#454545"/>
<polygon points="543.9,308.7 545.4,307.2 545.4,353.9 543.9,355.4" fill="#454545"/>
<polygon points="547.8,305.0 549.3,303.5 549.3,350.2 547.8,351.7" fill="#454545"/>
<polygon points="551.6,301.2 553.2,299.7 553.2,346.4 551.6,347.9" fill="#454545"/>
<polygon points="555.5,297.5 557.1,296.0 557.1,342.6 555.5,344.1" fill="#454545"/>
<polygon points="515.5,345.4 544.4,317.4 544.4,353.4 515.5,381.6" fill="none" stroke="#1c1c1c" stroke-width="0.7" stroke-linejoin="round"/>
<line x1="557.5" y1="295.6" x2="557.5" y2="341.6" stroke="#222" stroke-width="0.6"/>
<path d="M372.7 256.5 L419.4 211.0 L557.5 295.6 L510.9 340.6 Z M377.7 254.8 L418.4 215.1 L552.5 297.3 L511.9 336.5 Z" fill="#ffffff" fill-rule="evenodd" stroke="#555" stroke-width="0.45" stroke-linejoin="miter"/>
<line x1="419.9" y1="213.7" x2="554.0" y2="295.8" stroke="#b5b5b5" stroke-width="0.4"/>
<polygon points="326.1,302.0 372.7,256.5 510.9,340.6 464.3,385.6" fill="#d4d4d4"/>
<polygon points="331.1,347.3 371.7,307.6 505.9,388.3 465.3,428.0" fill="#dadada"/>
<polygon points="371.7,260.6 505.9,342.3 505.9,388.3 371.7,307.6" fill="#d4d4d4"/>
<polygon points="331.1,300.3 371.7,260.6 371.7,307.6 331.1,347.3" fill="#3e3e3e"/>
<polygon points="331.1,347.3 371.7,307.6 384.7,315.4 344.1,355.1" fill="#5a5a5a"/>
<polygon points="371.7,260.6 384.7,315.4 371.7,307.6" fill="#7c7c7c"/>
<polygon points="345.6,302.7 463.4,373.9 463.4,389.7 345.6,318.6" fill="#262626"/>
<polygon points="345.6,302.7 363.1,285.6 469.5,350.1 452.0,367.0" fill="#101010"/>
<polygon points="347.2,302.3 363.3,286.6 367.9,289.3 351.8,305.0" fill="url(#rackg)"/>
<polygon points="346.3,304.5 350.9,307.3 350.9,313.4 346.3,310.6" fill="#505050"/>
<polygon points="346.0,311.4 355.8,317.3 355.8,324.8 346.0,318.9" fill="#343434"/>
<polygon points="357.9,308.7 374.0,293.0 378.5,295.8 362.4,311.5" fill="url(#rackg)"/>
<polygon points="357.0,311.0 361.6,313.7 361.6,319.8 357.0,317.1" fill="#505050"/>
<polygon points="356.7,317.8 366.5,323.7 366.5,331.2 356.7,325.3" fill="#343434"/>
<polygon points="368.5,315.1 384.6,299.5 389.2,302.2 373.1,317.9" fill="url(#rackg)"/>
<polygon points="367.6,317.4 372.2,320.2 372.2,326.3 367.6,323.5" fill="#505050"/>
<polygon points="367.3,324.2 377.1,330.1 377.1,337.6 367.3,331.7" fill="#343434"/>
<polygon points="379.1,321.6 395.2,305.9 399.8,308.7 383.7,324.3" fill="url(#rackg)"/>
<polygon points="378.3,323.8 382.8,326.6 382.8,332.7 378.3,329.9" fill="#505050"/>
<polygon points="377.9,330.7 387.7,336.6 387.7,344.1 377.9,338.2" fill="#343434"/>
<polygon points="389.8,328.0 405.9,312.4 410.4,315.1 394.4,330.8" fill="url(#rackg)"/>
<polygon points="388.9,330.3 393.5,333.0 393.5,339.1 388.9,336.3" fill="#505050"/>
<polygon points="388.6,337.1 398.4,343.0 398.4,350.5 388.6,344.6" fill="#343434"/>
<polygon points="400.4,334.5 416.5,318.8 421.1,321.6 405.0,337.2" fill="url(#rackg)"/>
<polygon points="399.6,336.7 404.1,339.5 404.1,345.5 399.6,342.8" fill="#505050"/>
<polygon points="399.2,343.5 409.0,349.4 409.0,356.9 399.2,351.0" fill="#343434"/>
<polygon points="411.1,340.9 427.2,325.3 431.7,328.0 415.6,343.7" fill="url(#rackg)"/>
<polygon points="410.2,343.1 414.8,345.9 414.8,352.0 410.2,349.2" fill="#505050"/>
<polygon points="409.9,350.0 419.7,355.9 419.7,363.3 409.9,357.4" fill="#343434"/>
<polygon points="421.7,347.3 437.8,331.7 442.4,334.5 426.3,350.1" fill="url(#rackg)"/>
<polygon points="420.8,349.6 425.4,352.3 425.4,358.4 420.8,355.6" fill="#505050"/>
<polygon points="420.5,356.4 430.3,362.3 430.3,369.7 420.5,363.8" fill="#343434"/>
<polygon points="432.4,353.8 448.4,338.2 453.0,340.9 436.9,356.5" fill="url(#rackg)"/>
<polygon points="431.5,356.0 436.1,358.8 436.1,364.8 431.5,362.1" fill="#505050"/>
<polygon points="431.2,362.8 441.0,368.7 441.0,376.2 431.2,370.3" fill="#343434"/>
<polygon points="442.9,360.1 458.6,344.9 464.6,348.5 448.9,363.7" fill="#505050"/>
<polygon points="445.5,359.0 453.7,351.0 458.0,353.6 449.7,361.5" fill="#474747" stroke="#1e1e1e" stroke-width="0.5" stroke-linejoin="round"/>
<polygon points="441.9,362.3 451.5,368.1 451.5,382.5 441.9,376.7" fill="#404040"/>
<polygon points="452.0,367.0 463.4,373.9 463.4,396.6 452.0,389.8" fill="#d97a04"/>
<polygon points="463.4,373.9 480.8,357.0 480.8,379.6 463.4,396.6" fill="#4a2800"/>
<polygon points="452.0,367.0 469.5,350.1 480.8,357.0 463.4,373.9" fill="#ffa304"/>
<line x1="460.8" y1="358.6" x2="472.1" y2="365.4" stroke="#c97400" stroke-width="0.5"/>
<polygon points="481.5,355.6 491.5,345.9 491.5,354.2 481.5,363.9" fill="#9c9f9f" stroke="#7a7a7a" stroke-width="0.4" stroke-linejoin="round"/>
<polygon points="464.3,385.6 510.9,340.6 510.9,387.4 464.3,432.6" fill="#3a3a3a"/>
<polygon points="466.3,383.7 467.8,382.2 467.8,429.2 466.3,430.7" fill="#454545"/>
<polygon points="470.1,380.0 471.7,378.5 471.7,425.5 470.1,427.0" fill="#454545"/>
<polygon points="474.0,376.2 475.6,374.7 475.6,421.7 474.0,423.2" fill="#454545"/>
<polygon points="477.9,372.5 479.5,371.0 479.5,417.9 477.9,419.4" fill="#454545"/>
<polygon points="481.8,368.7 483.3,367.2 483.3,414.2 481.8,415.7" fill="#454545"/>
<polygon points="485.7,365.0 487.2,363.5 487.2,410.4 485.7,411.9" fill="#454545"/>
<polygon points="489.5,361.2 491.1,359.7 491.1,406.6 489.5,408.1" fill="#454545"/>
<polygon points="493.4,357.5 495.0,356.0 495.0,402.9 493.4,404.4" fill="#454545"/>
<polygon points="497.3,353.7 498.9,352.2 498.9,399.1 497.3,400.6" fill="#454545"/>
<polygon points="501.2,350.0 502.7,348.5 502.7,395.3 501.2,396.9" fill="#454545"/>
<polygon points="505.1,346.2 506.6,344.7 506.6,391.6 505.1,393.1" fill="#454545"/>
<polygon points="508.9,342.5 510.5,341.0 510.5,387.8 508.9,389.3" fill="#454545"/>
<polygon points="469.0,390.4 497.9,362.4 497.9,398.4 469.0,426.6" fill="none" stroke="#1c1c1c" stroke-width="0.7" stroke-linejoin="round"/>
<line x1="510.9" y1="340.6" x2="510.9" y2="386.6" stroke="#222" stroke-width="0.6"/>
<path d="M326.1 302.0 L372.7 256.5 L510.9 340.6 L464.3 385.6 Z M331.1 300.3 L371.7 260.6 L505.9 342.3 L465.3 381.5 Z" fill="#ffffff" fill-rule="evenodd" stroke="#555" stroke-width="0.45" stroke-linejoin="miter"/>
<line x1="373.2" y1="259.2" x2="507.4" y2="340.8" stroke="#b5b5b5" stroke-width="0.4"/>
<polygon points="279.4,347.5 326.1,302.0 464.3,385.6 417.8,430.6" fill="#d4d4d4"/>
<polygon points="284.4,392.8 325.1,353.1 459.3,433.3 418.7,473.0" fill="#dadada"/>
<polygon points="325.1,306.1 459.3,387.3 459.3,433.3 325.1,353.1" fill="#d4d4d4"/>
<polygon points="284.4,345.8 325.1,306.1 325.1,353.1 284.4,392.8" fill="#3e3e3e"/>
<polygon points="284.4,392.8 325.1,353.1 338.1,360.9 297.4,400.5" fill="#7f7f7f"/>
<polygon points="325.1,306.1 338.1,360.9 325.1,353.1" fill="#7c7c7c"/>
<polygon points="320.1,378.4 331.7,367.1 453.0,439.5 441.4,450.9" fill="#d2d2d2"/>
<line x1="331.7" y1="367.1" x2="453.0" y2="439.5" stroke="#7a7a7a" stroke-width="0.5"/>
<line x1="325.1" y1="353.1" x2="459.3" y2="433.3" stroke="#7a7a7a" stroke-width="0.5"/>
<polygon points="279.4,347.5 417.8,430.6 417.8,477.8 279.4,401.5" fill="#cdcdcd"/>
<polygon points="281.1,348.5 282.8,349.6 282.8,403.4 281.1,402.4" fill="#d6d6d6"/>
<polygon points="283.9,350.2 284.9,350.8 284.9,404.6 283.9,404.0" fill="#b2b2b2"/>
<polygon points="286.6,351.8 288.4,352.9 288.4,406.4 286.6,405.5" fill="#d6d6d6"/>
<polygon points="289.5,353.5 290.5,354.1 290.5,407.6 289.5,407.1" fill="#b2b2b2"/>
<polygon points="292.1,355.1 293.9,356.2 293.9,409.5 292.1,408.5" fill="#d6d6d6"/>
<polygon points="295.0,356.9 296.0,357.5 296.0,410.7 295.0,410.1" fill="#b2b2b2"/>
<polygon points="297.7,358.5 299.4,359.5 299.4,412.5 297.7,411.6" fill="#d6d6d6"/>
<polygon points="300.5,360.2 301.5,360.8 301.5,413.7 300.5,413.2" fill="#b2b2b2"/>
<polygon points="303.2,361.8 305.0,362.9 305.0,415.6 303.2,414.6" fill="#d6d6d6"/>
<polygon points="306.1,363.5 307.1,364.1 307.1,416.8 306.1,416.2" fill="#b2b2b2"/>
<polygon points="308.7,365.1 310.5,366.2 310.5,418.7 308.7,417.7" fill="#d6d6d6"/>
<polygon points="311.6,366.8 312.6,367.4 312.6,419.8 311.6,419.3" fill="#b2b2b2"/>
<polygon points="314.3,368.4 316.0,369.5 316.0,421.7 314.3,420.7" fill="#d6d6d6"/>
<polygon points="317.1,370.2 318.1,370.8 318.1,422.9 317.1,422.3" fill="#b2b2b2"/>
<polygon points="319.8,371.8 321.6,372.8 321.6,424.8 319.8,423.8" fill="#d6d6d6"/>
<polygon points="322.7,373.5 323.7,374.1 323.7,425.9 322.7,425.4" fill="#b2b2b2"/>
<polygon points="325.3,375.1 327.1,376.2 327.1,427.8 325.3,426.8" fill="#d6d6d6"/>
<polygon points="328.2,376.8 329.2,377.4 329.2,429.0 328.2,428.4" fill="#b2b2b2"/>
<polygon points="330.9,378.4 332.6,379.5 332.6,430.9 330.9,429.9" fill="#d6d6d6"/>
<polygon points="333.7,380.1 334.7,380.7 334.7,432.0 333.7,431.5" fill="#b2b2b2"/>
<polygon points="336.4,381.7 338.2,382.8 338.2,433.9 336.4,432.9" fill="#d6d6d6"/>
<polygon points="339.3,383.5 340.3,384.1 340.3,435.1 339.3,434.5" fill="#b2b2b2"/>
<polygon points="341.9,385.1 343.7,386.1 343.7,437.0 341.9,436.0" fill="#d6d6d6"/>
<polygon points="344.8,386.8 345.8,387.4 345.8,438.1 344.8,437.6" fill="#b2b2b2"/>
<polygon points="347.5,388.4 349.2,389.4 349.2,440.0 347.5,439.0" fill="#d6d6d6"/>
<polygon points="350.3,390.1 351.3,390.7 351.3,441.2 350.3,440.6" fill="#b2b2b2"/>
<polygon points="353.0,391.7 354.8,392.8 354.8,443.1 353.0,442.1" fill="#d6d6d6"/>
<polygon points="355.9,393.4 356.9,394.0 356.9,444.2 355.9,443.7" fill="#b2b2b2"/>
<polygon points="358.5,395.0 360.3,396.1 360.3,446.1 358.5,445.1" fill="#d6d6d6"/>
<polygon points="361.4,396.8 362.4,397.4 362.4,447.3 361.4,446.7" fill="#b2b2b2"/>
<polygon points="364.1,398.4 365.8,399.4 365.8,449.2 364.1,448.2" fill="#d6d6d6"/>
<polygon points="366.9,400.1 367.9,400.7 367.9,450.3 366.9,449.8" fill="#b2b2b2"/>
<polygon points="369.6,401.7 371.4,402.7 371.4,452.2 369.6,451.2" fill="#d6d6d6"/>
<polygon points="372.5,403.4 373.5,404.0 373.5,453.4 372.5,452.8" fill="#b2b2b2"/>
<polygon points="375.1,405.0 376.9,406.1 376.9,455.3 375.1,454.3" fill="#d6d6d6"/>
<polygon points="378.0,406.7 379.0,407.3 379.0,456.4 378.0,455.9" fill="#b2b2b2"/>
<polygon points="380.7,408.3 382.4,409.4 382.4,458.3 380.7,457.4" fill="#d6d6d6"/>
<polygon points="383.5,410.1 384.5,410.7 384.5,459.5 383.5,458.9" fill="#b2b2b2"/>
<polygon points="386.2,411.7 388.0,412.7 388.0,461.4 386.2,460.4" fill="#d6d6d6"/>
<polygon points="389.1,413.4 390.1,414.0 390.1,462.5 389.1,462.0" fill="#b2b2b2"/>
<polygon points="391.7,415.0 393.5,416.0 393.5,464.4 391.7,463.5" fill="#d6d6d6"/>
<polygon points="394.6,416.7 395.6,417.3 395.6,465.6 394.6,465.0" fill="#b2b2b2"/>
<polygon points="397.3,418.3 399.0,419.4 399.0,467.5 397.3,466.5" fill="#d6d6d6"/>
<polygon points="400.2,420.0 401.1,420.6 401.1,468.6 400.2,468.1" fill="#b2b2b2"/>
<polygon points="402.8,421.6 404.6,422.7 404.6,470.5 402.8,469.6" fill="#d6d6d6"/>
<polygon points="405.7,423.4 406.7,424.0 406.7,471.7 405.7,471.1" fill="#b2b2b2"/>
<polygon points="408.3,424.9 410.1,426.0 410.1,473.6 408.3,472.6" fill="#d6d6d6"/>
<polygon points="411.2,426.7 412.2,427.3 412.2,474.7 411.2,474.2" fill="#b2b2b2"/>
<polygon points="413.9,428.3 415.6,429.3 415.6,476.6 413.9,475.7" fill="#d6d6d6"/>
<polygon points="416.8,430.0 417.8,430.6 417.8,477.8 416.8,477.3" fill="#b2b2b2"/>
<polygon points="417.8,430.6 464.3,385.6 464.3,432.6 417.8,477.8" fill="#3a3a3a"/>
<polygon points="419.7,428.7 421.2,427.2 421.2,474.4 419.7,475.9" fill="#454545"/>
<polygon points="423.6,425.0 425.1,423.5 425.1,470.6 423.6,472.2" fill="#454545"/>
<polygon points="427.5,421.2 429.0,419.7 429.0,466.9 427.5,468.4" fill="#454545"/>
<polygon points="431.3,417.5 432.9,416.0 432.9,463.1 431.3,464.6" fill="#454545"/>
<polygon points="435.2,413.7 436.8,412.2 436.8,459.4 435.2,460.9" fill="#454545"/>
<polygon points="439.1,410.0 440.6,408.5 440.6,455.6 439.1,457.1" fill="#454545"/>
<polygon points="443.0,406.2 444.5,404.7 444.5,451.8 443.0,453.3" fill="#454545"/>
<polygon points="446.9,402.5 448.4,401.0 448.4,448.1 446.9,449.6" fill="#454545"/>
<polygon points="450.7,398.7 452.3,397.2 452.3,444.3 450.7,445.8" fill="#454545"/>
<polygon points="454.6,395.0 456.2,393.5 456.2,440.5 454.6,442.0" fill="#454545"/>
<polygon points="458.5,391.2 460.1,389.7 460.1,436.8 458.5,438.3" fill="#454545"/>
<polygon points="462.4,387.5 463.9,386.0 463.9,433.0 462.4,434.5" fill="#454545"/>
<polygon points="422.4,435.4 451.3,407.4 451.3,443.4 422.4,471.6" fill="none" stroke="#1c1c1c" stroke-width="0.7" stroke-linejoin="round"/>
<line x1="464.3" y1="385.6" x2="464.3" y2="431.6" stroke="#222" stroke-width="0.6"/>
<path d="M279.4 347.5 L326.1 302.0 L464.3 385.6 L417.8 430.6 Z M284.4 345.8 L325.1 306.1 L459.3 387.3 L418.7 426.5 Z" fill="#ffffff" fill-rule="evenodd" stroke="#555" stroke-width="0.45" stroke-linejoin="miter"/>
<line x1="326.6" y1="304.7" x2="460.8" y2="385.8" stroke="#b5b5b5" stroke-width="0.4"/>
<polygon points="279.4,401.2 279.4,404.2 325.0,429.5 350.0,440.6" fill="#858585"/>
<line x1="464.3" y1="388.1" x2="464.3" y2="432.6" stroke="#7c7c7c" stroke-width="0.8"/>
<line x1="510.9" y1="343.1" x2="510.9" y2="387.4" stroke="#7c7c7c" stroke-width="0.8"/>
<line x1="557.5" y1="298.1" x2="557.5" y2="342.3" stroke="#7c7c7c" stroke-width="0.8"/>
<line x1="604.0" y1="253.1" x2="604.0" y2="297.1" stroke="#7c7c7c" stroke-width="0.8"/>
<polygon points="753.8,459.9 800.0,420.0 845.5,386.0 848.0,392.0 759.0,467.0" fill="#a4a4a4"/>
<polygon points="823.0,404.5 845.5,387.0 846.5,389.5 826.0,405.5" fill="#ffffff"/>
<polygon points="662.9,330.7 708.0,286.4 754.8,315.1 709.7,359.4" fill="#ffffff" stroke="#888" stroke-width="0.4" stroke-linejoin="round"/>
<polygon points="802.0,394.0 825.5,371.0 844.0,381.5 844.0,386.0 802.0,419.0" fill="#858585"/>
<polygon points="800.6,417.3 845.0,383.5 845.0,386.0 800.6,420.0" fill="#2c2c2c"/>
<polygon points="736.5,275.9 844.4,342.0 847.0,337.9 739.0,271.9" fill="#b2b2b2" stroke="none" stroke-width="0.35" stroke-linejoin="round"/>
<polygon points="708.7,288.1 738.4,275.6 737.1,272.2 707.3,284.7" fill="#b2b2b2" stroke="none" stroke-width="0.35" stroke-linejoin="round"/>
<polygon points="736.4,272.5 707.1,301.3 709.8,304.1 739.1,275.3" fill="#b2b2b2" stroke="none" stroke-width="0.35" stroke-linejoin="round"/>
<polygon points="754.6,316.2 784.3,303.7 783.0,300.3 753.2,312.8" fill="#b2b2b2" stroke="none" stroke-width="0.35" stroke-linejoin="round"/>
<polygon points="782.3,300.6 753.0,329.4 755.7,332.2 785.0,303.4" fill="#b2b2b2" stroke="none" stroke-width="0.35" stroke-linejoin="round"/>
<polygon points="800.5,344.3 830.2,331.8 828.9,328.4 799.1,340.9" fill="#b2b2b2" stroke="none" stroke-width="0.35" stroke-linejoin="round"/>
<polygon points="828.2,328.7 798.9,357.5 801.6,360.3 830.9,331.5" fill="#b2b2b2" stroke="none" stroke-width="0.35" stroke-linejoin="round"/>
<polygon points="706.1,244.0 710.1,244.0 710.1,297.1 706.1,297.1" fill="#d4d4d4" stroke="#666" stroke-width="0.4" stroke-linejoin="round"/>
<polygon points="709.1,244.0 710.1,244.0 710.1,297.1 709.1,297.1" fill="#4a4a4a"/>
<polygon points="750.3,271.1 754.3,271.1 754.3,324.2 750.3,324.2" fill="#d4d4d4" stroke="#666" stroke-width="0.4" stroke-linejoin="round"/>
<polygon points="753.3,271.1 754.3,271.1 754.3,324.2 753.3,324.2" fill="#4a4a4a"/>
<polygon points="796.2,299.2 800.2,299.2 800.2,352.3 796.2,352.3" fill="#d4d4d4" stroke="#666" stroke-width="0.4" stroke-linejoin="round"/>
<polygon points="799.2,299.2 800.2,299.2 800.2,352.3 799.2,352.3" fill="#4a4a4a"/>
<polygon points="840.5,326.2 844.5,326.2 844.5,392.4 840.5,392.4" fill="#d4d4d4" stroke="#666" stroke-width="0.4" stroke-linejoin="round"/>
<polygon points="843.5,326.2 844.5,326.2 844.5,392.4 843.5,392.4" fill="#4a4a4a"/>
<polygon points="704.5,299.8 704.4,298.7 704.2,297.8 703.8,297.1 703.3,296.6 702.6,296.3 701.8,296.3 701.0,296.5 700.0,297.0 699.0,297.6 698.0,298.5 697.0,299.6 696.0,300.8 695.0,302.1 694.2,303.6 693.4,305.1 692.7,306.6 692.2,308.1 691.8,309.6 691.6,311.0 691.5,312.2 691.6,313.3 691.8,314.2 692.2,314.9 692.7,315.4 693.4,315.7 694.2,315.7 695.0,315.5 696.0,315.0 697.0,314.4 698.0,313.5 699.0,312.4 700.0,311.2 701.0,309.9 701.8,308.4 702.6,306.9 703.3,305.4 703.8,303.9 704.2,302.4 704.4,301.0" fill="#0b74ab"/>
<polygon points="734.3,315.6 703.3,296.6 692.7,315.4 723.7,334.4" fill="#0b74ab"/>
<polygon points="723.7,334.4 692.7,315.4 698.0,306.0 729.0,325.0" fill="#075e8f"/>
<polygon points="735.5,318.8 735.4,317.7 735.2,316.8 734.8,316.1 734.3,315.6 733.6,315.3 732.8,315.3 732.0,315.5 731.0,316.0 730.0,316.6 729.0,317.5 728.0,318.6 727.0,319.8 726.0,321.1 725.2,322.6 724.4,324.1 723.7,325.6 723.2,327.1 722.8,328.6 722.6,330.0 722.5,331.2 722.6,332.3 722.8,333.2 723.2,333.9 723.7,334.4 724.4,334.7 725.2,334.7 726.0,334.5 727.0,334.0 728.0,333.4 729.0,332.5 730.0,331.4 731.0,330.2 732.0,328.9 732.8,327.4 733.6,325.9 734.3,324.4 734.8,322.9 735.2,321.4 735.4,320.0" fill="#052c44"/>
<polygon points="729.9,323.1 800.8,366.5 800.8,384.5 729.9,341.1" fill="#e4e4e4" stroke="#999" stroke-width="0.4" stroke-linejoin="round"/>
<polygon points="800.8,366.5 814.5,353.0 814.5,373.3 800.8,386.8" fill="#bdbdbd" stroke="#888" stroke-width="0.4" stroke-linejoin="round"/>
<polygon points="729.9,323.1 743.6,309.6 814.5,353.0 800.8,366.5" fill="#fafafa" stroke="#8a8a8a" stroke-width="0.45" stroke-linejoin="round"/>
<polygon points="786.2,354.7 796.3,344.7 811.1,353.8 800.9,363.7" fill="#ffffff" stroke="#b5b5b5" stroke-width="0.4" stroke-linejoin="round"/>
<ellipse cx="746.9" cy="322.0" rx="10.7" ry="8.5" fill="#f4f4f4" stroke="#8a8a8a" stroke-width="0.4"/>
<ellipse cx="746.9" cy="319.4" rx="10.2" ry="8.2" fill="#131313"/>
<ellipse cx="746.9" cy="319.4" rx="7.3" ry="5.9" fill="none" stroke="#2b2b2b" stroke-width="0.7"/>
<line x1="746.9" y1="319.4" x2="753.7" y2="321.1" stroke="#2e2e2e" stroke-width="1.2"/>
<line x1="746.9" y1="319.4" x2="748.5" y2="325.0" stroke="#2e2e2e" stroke-width="1.2"/>
<line x1="746.9" y1="319.4" x2="741.7" y2="323.3" stroke="#2e2e2e" stroke-width="1.2"/>
<line x1="746.9" y1="319.4" x2="740.1" y2="317.7" stroke="#2e2e2e" stroke-width="1.2"/>
<line x1="746.9" y1="319.4" x2="745.3" y2="313.8" stroke="#2e2e2e" stroke-width="1.2"/>
<line x1="746.9" y1="319.4" x2="752.1" y2="315.5" stroke="#2e2e2e" stroke-width="1.2"/>
<ellipse cx="746.9" cy="319.4" rx="1.3" ry="1.0" fill="#6a6a6a"/>
<ellipse cx="766.2" cy="333.9" rx="10.7" ry="8.5" fill="#f4f4f4" stroke="#8a8a8a" stroke-width="0.4"/>
<ellipse cx="766.2" cy="331.2" rx="10.2" ry="8.2" fill="#131313"/>
<ellipse cx="766.2" cy="331.2" rx="7.3" ry="5.9" fill="none" stroke="#2b2b2b" stroke-width="0.7"/>
<line x1="766.2" y1="331.2" x2="773.1" y2="332.9" stroke="#2e2e2e" stroke-width="1.2"/>
<line x1="766.2" y1="331.2" x2="767.8" y2="336.8" stroke="#2e2e2e" stroke-width="1.2"/>
<line x1="766.2" y1="331.2" x2="761.0" y2="335.2" stroke="#2e2e2e" stroke-width="1.2"/>
<line x1="766.2" y1="331.2" x2="759.4" y2="329.6" stroke="#2e2e2e" stroke-width="1.2"/>
<line x1="766.2" y1="331.2" x2="764.7" y2="325.7" stroke="#2e2e2e" stroke-width="1.2"/>
<line x1="766.2" y1="331.2" x2="771.5" y2="327.3" stroke="#2e2e2e" stroke-width="1.2"/>
<ellipse cx="766.2" cy="331.2" rx="1.3" ry="1.0" fill="#6a6a6a"/>
<ellipse cx="785.0" cy="345.7" rx="10.7" ry="8.5" fill="#f4f4f4" stroke="#8a8a8a" stroke-width="0.4"/>
<ellipse cx="785.0" cy="343.1" rx="10.2" ry="8.2" fill="#131313"/>
<ellipse cx="785.0" cy="343.1" rx="7.3" ry="5.9" fill="none" stroke="#2b2b2b" stroke-width="0.7"/>
<line x1="785.0" y1="343.1" x2="791.8" y2="344.8" stroke="#2e2e2e" stroke-width="1.2"/>
<line x1="785.0" y1="343.1" x2="786.6" y2="348.7" stroke="#2e2e2e" stroke-width="1.2"/>
<line x1="785.0" y1="343.1" x2="779.8" y2="347.0" stroke="#2e2e2e" stroke-width="1.2"/>
<line x1="785.0" y1="343.1" x2="778.2" y2="341.4" stroke="#2e2e2e" stroke-width="1.2"/>
<line x1="785.0" y1="343.1" x2="783.4" y2="337.5" stroke="#2e2e2e" stroke-width="1.2"/>
<line x1="785.0" y1="343.1" x2="790.2" y2="339.2" stroke="#2e2e2e" stroke-width="1.2"/>
<ellipse cx="785.0" cy="343.1" rx="1.3" ry="1.0" fill="#6a6a6a"/>
<polygon points="620.4,384.2 661.2,345.5 793.4,422.4 753.7,463.5" fill="#cdcdcd"/>
<polygon points="661.2,290.6 793.4,370.3 793.4,422.4 661.2,345.5" fill="#d6d6d6"/>
<polygon points="620.4,329.2 661.2,290.6 661.2,345.5 620.4,384.2" fill="#3e3e3e"/>
<polygon points="627.1,330.5 650.9,308.1 650.9,355.4 627.1,377.8" fill="#404040" stroke="#2a2a2a" stroke-width="0.7" stroke-linejoin="round"/>
<polygon points="661.2,290.6 670.8,351.1 661.2,345.5" fill="#8e8e8e"/>
<polygon points="620.4,384.2 661.2,345.5 672.2,351.9 631.4,390.7" fill="#8a8a8a"/>
<polygon points="680.3,323.2 685.0,318.4 685.0,348.0 680.3,354.0" fill="#062f49"/>
<polygon points="658.8,310.6 680.3,323.2 680.3,354.0 658.8,342.0" fill="#05649b"/>
<polygon points="658.8,310.6 664.0,306.6 685.0,318.4 680.3,323.2" fill="#0a7cb6"/>
<path d="M692 331 Q698.5 331 699 340 L699 352 L692 357 Z" fill="#8f8f8f"/>
<rect x="684.6" y="325.7" width="9.8" height="35" rx="4.9" ry="4.5" fill="url(#redg)"/>
<polygon points="686.7,359.7 738.3,391.0 738.3,439.4 686.7,408.9" fill="#d97a04"/>
<polygon points="738.3,391.0 749.9,379.4 749.9,427.6 738.3,439.4" fill="#4a2800"/>
<polygon points="686.7,359.7 698.5,348.3 749.9,379.4 738.3,391.0" fill="#ffa502"/>
<polygon points="738.3,391.0 761.8,405.3 761.8,453.3 738.3,439.4" fill="#d97a04"/>
<polygon points="761.8,405.3 773.4,393.6 773.4,441.4 761.8,453.3" fill="#4a2800"/>
<polygon points="738.3,391.0 749.9,379.4 773.4,393.6 761.8,405.3" fill="#ffa502"/>
<line x1="738.3" y1="391.0" x2="749.9" y2="379.4" stroke="#c97a00" stroke-width="0.5"/>
<line x1="738.3" y1="391.0" x2="738.3" y2="423.4" stroke="#a85c00" stroke-width="0.5"/>
<polygon points="615.6,330.0 753.8,414.4 753.8,467.3 615.6,385.0" fill="#cdcdcd"/>
<polygon points="617.3,331.0 619.0,332.1 619.0,387.0 617.3,386.0" fill="#d6d6d6"/>
<polygon points="620.1,332.8 621.1,333.4 621.1,388.3 620.1,387.7" fill="#b2b2b2"/>
<polygon points="622.8,334.4 624.6,335.5 624.6,390.3 622.8,389.3" fill="#d6d6d6"/>
<polygon points="625.7,336.1 626.7,336.8 626.7,391.6 625.7,391.0" fill="#b2b2b2"/>
<polygon points="628.3,337.8 630.1,338.8 630.1,393.6 628.3,392.6" fill="#d6d6d6"/>
<polygon points="631.2,339.5 632.2,340.1 632.2,394.9 631.2,394.3" fill="#b2b2b2"/>
<polygon points="633.8,341.1 635.6,342.2 635.6,396.9 633.8,395.9" fill="#d6d6d6"/>
<polygon points="636.7,342.9 637.7,343.5 637.7,398.2 636.7,397.6" fill="#b2b2b2"/>
<polygon points="639.4,344.5 641.1,345.6 641.1,400.2 639.4,399.2" fill="#d6d6d6"/>
<polygon points="642.2,346.3 643.2,346.9 643.2,401.5 642.2,400.9" fill="#b2b2b2"/>
<polygon points="644.9,347.9 646.7,349.0 646.7,403.5 644.9,402.4" fill="#d6d6d6"/>
<polygon points="647.8,349.6 648.8,350.3 648.8,404.8 647.8,404.2" fill="#b2b2b2"/>
<polygon points="650.4,351.3 652.2,352.3 652.2,406.8 650.4,405.7" fill="#d6d6d6"/>
<polygon points="653.3,353.0 654.3,353.6 654.3,408.0 653.3,407.5" fill="#b2b2b2"/>
<polygon points="655.9,354.6 657.7,355.7 657.7,410.1 655.9,409.0" fill="#d6d6d6"/>
<polygon points="658.8,356.4 659.8,357.0 659.8,411.3 658.8,410.7" fill="#b2b2b2"/>
<polygon points="661.5,358.0 663.2,359.1 663.2,413.4 661.5,412.3" fill="#d6d6d6"/>
<polygon points="664.3,359.8 665.3,360.4 665.3,414.6 664.3,414.0" fill="#b2b2b2"/>
<polygon points="667.0,361.4 668.8,362.5 668.8,416.7 667.0,415.6" fill="#d6d6d6"/>
<polygon points="669.9,363.2 670.9,363.8 670.9,417.9 669.9,417.3" fill="#b2b2b2"/>
<polygon points="672.5,364.8 674.3,365.9 674.3,420.0 672.5,418.9" fill="#d6d6d6"/>
<polygon points="675.4,366.5 676.4,367.1 676.4,421.2 675.4,420.6" fill="#b2b2b2"/>
<polygon points="678.0,368.1 679.8,369.2 679.8,423.3 678.0,422.2" fill="#d6d6d6"/>
<polygon points="680.9,369.9 681.9,370.5 681.9,424.5 680.9,423.9" fill="#b2b2b2"/>
<polygon points="683.6,371.5 685.3,372.6 685.3,426.5 683.6,425.5" fill="#d6d6d6"/>
<polygon points="686.4,373.3 687.4,373.9 687.4,427.8 686.4,427.2" fill="#b2b2b2"/>
<polygon points="689.1,374.9 690.9,376.0 690.9,429.8 689.1,428.8" fill="#d6d6d6"/>
<polygon points="692.0,376.7 693.0,377.3 693.0,431.1 692.0,430.5" fill="#b2b2b2"/>
<polygon points="694.6,378.3 696.4,379.4 696.4,433.1 694.6,432.1" fill="#d6d6d6"/>
<polygon points="697.5,380.0 698.5,380.6 698.5,434.4 697.5,433.8" fill="#b2b2b2"/>
<polygon points="700.1,381.7 701.9,382.7 701.9,436.4 700.1,435.4" fill="#d6d6d6"/>
<polygon points="703.0,383.4 704.0,384.0 704.0,437.7 703.0,437.1" fill="#b2b2b2"/>
<polygon points="705.7,385.0 707.4,386.1 707.4,439.7 705.7,438.7" fill="#d6d6d6"/>
<polygon points="708.5,386.8 709.5,387.4 709.5,441.0 708.5,440.4" fill="#b2b2b2"/>
<polygon points="711.2,388.4 713.0,389.5 713.0,443.0 711.2,442.0" fill="#d6d6d6"/>
<polygon points="714.1,390.2 715.1,390.8 715.1,444.3 714.1,443.7" fill="#b2b2b2"/>
<polygon points="716.7,391.8 718.5,392.9 718.5,446.3 716.7,445.2" fill="#d6d6d6"/>
<polygon points="719.6,393.5 720.6,394.1 720.6,447.5 719.6,447.0" fill="#b2b2b2"/>
<polygon points="722.3,395.2 724.0,396.2 724.0,449.6 722.3,448.5" fill="#d6d6d6"/>
<polygon points="725.1,396.9 726.1,397.5 726.1,450.8 725.1,450.2" fill="#b2b2b2"/>
<polygon points="727.8,398.5 729.5,399.6 729.5,452.9 727.8,451.8" fill="#d6d6d6"/>
<polygon points="730.7,400.3 731.6,400.9 731.6,454.1 730.7,453.5" fill="#b2b2b2"/>
<polygon points="733.3,401.9 735.1,403.0 735.1,456.2 733.3,455.1" fill="#d6d6d6"/>
<polygon points="736.2,403.7 737.2,404.3 737.2,457.4 736.2,456.8" fill="#b2b2b2"/>
<polygon points="738.8,405.3 740.6,406.4 740.6,459.5 738.8,458.4" fill="#d6d6d6"/>
<polygon points="741.7,407.0 742.7,407.6 742.7,460.7 741.7,460.1" fill="#b2b2b2"/>
<polygon points="744.4,408.7 746.1,409.7 746.1,462.8 744.4,461.7" fill="#d6d6d6"/>
<polygon points="747.2,410.4 748.2,411.0 748.2,464.0 747.2,463.4" fill="#b2b2b2"/>
<polygon points="749.9,412.0 751.7,413.1 751.7,466.0 749.9,465.0" fill="#d6d6d6"/>
<polygon points="752.8,413.8 753.8,414.4 753.8,467.3 752.8,466.7" fill="#b2b2b2"/>
<polygon points="753.8,414.4 798.1,369.4 798.1,421.4 753.8,467.3" fill="#3a3a3a"/>
<polygon points="755.8,412.4 757.4,410.7 757.4,463.5 755.8,465.2" fill="#454545"/>
<polygon points="759.8,408.3 761.4,406.6 761.4,459.4 759.8,461.0" fill="#454545"/>
<polygon points="763.8,404.2 765.4,402.5 765.4,455.2 763.8,456.9" fill="#454545"/>
<polygon points="767.9,400.1 769.5,398.4 769.5,451.0 767.9,452.7" fill="#454545"/>
<polygon points="771.9,396.0 773.5,394.4 773.5,446.9 771.9,448.5" fill="#454545"/>
<polygon points="775.9,391.9 777.5,390.3 777.5,442.7 775.9,444.3" fill="#454545"/>
<polygon points="780.0,387.8 781.6,386.2 781.6,438.5 780.0,440.2" fill="#454545"/>
<polygon points="784.0,383.7 785.6,382.1 785.6,434.3 784.0,436.0" fill="#454545"/>
<polygon points="788.0,379.6 789.6,378.0 789.6,430.2 788.0,431.8" fill="#454545"/>
<polygon points="792.1,375.5 793.7,373.9 793.7,426.0 792.1,427.7" fill="#454545"/>
<polygon points="796.1,371.4 797.7,369.8 797.7,421.8 796.1,423.5" fill="#454545"/>
<polygon points="753.6,467.3 753.6,460.2 798.3,416.5 800.0,420.5" fill="#8a8a8a"/>
<polygon points="616.0,385.0 753.6,467.3 753.6,471.5 616.0,389.2" fill="#8a8a8a"/>
<path d="M615.6 330.0 L661.2 286.9 L798.1 369.4 L753.8 414.4 Z M620.4 329.2 L661.2 290.6 L793.4 370.3 L753.7 410.6 Z" fill="#ffffff" fill-rule="evenodd" stroke="#555" stroke-width="0.45" stroke-linejoin="miter"/>
<polygon points="704.4,244.9 708.0,241.4 845.7,325.7 842.1,329.2" fill="#ffffff" stroke="#555" stroke-width="0.45" stroke-linejoin="round"/>
<polygon points="662.9,285.7 665.1,283.5 802.8,367.8 800.6,370.0" fill="#ffffff" stroke="#555" stroke-width="0.45" stroke-linejoin="round"/>
<polygon points="666.5,287.9 711.6,243.6 711.6,248.8 666.5,293.1" fill="#2e2e2e"/>
<polygon points="662.9,285.7 708.0,241.4 711.6,243.6 666.5,287.9" fill="#ffffff" stroke="#555" stroke-width="0.45" stroke-linejoin="round"/>
<polygon points="710.6,314.9 755.7,270.6 755.7,275.8 710.6,320.1" fill="#2e2e2e"/>
<polygon points="707.0,312.7 752.1,268.4 755.7,270.6 710.6,314.9" fill="#ffffff" stroke="#555" stroke-width="0.45" stroke-linejoin="round"/>
<polygon points="756.5,343.0 801.6,298.7 801.6,303.9 756.5,348.2" fill="#2e2e2e"/>
<polygon points="752.9,340.8 798.0,296.5 801.6,298.7 756.5,343.0" fill="#ffffff" stroke="#555" stroke-width="0.45" stroke-linejoin="round"/>
<polygon points="800.6,370.0 845.7,325.7 845.7,330.9 800.6,375.2" fill="#2e2e2e"/>
<polygon points="797.0,367.8 842.1,323.5 845.7,325.7 800.6,370.0" fill="#ffffff" stroke="#555" stroke-width="0.45" stroke-linejoin="round"/>
<polygon points="804.0,373.5 810.5,377.0 810.5,396.5 804.0,393.0" fill="#7c7c7c" stroke="#444" stroke-width="0.4" stroke-linejoin="round"/>
<polygon points="810.5,377.0 825.6,362.5 825.6,383.5 810.5,396.5" fill="#3a3a3a" stroke="#222" stroke-width="0.4" stroke-linejoin="round"/>
<polygon points="804.0,373.5 819.0,357.5 825.6,362.5 810.5,377.0" fill="#fbfbfb" stroke="#666" stroke-width="0.4" stroke-linejoin="round"/>
<line x1="801.2" y1="371.0" x2="801.2" y2="419.0" stroke="#4a4a4a" stroke-width="1.6"/>
<polygon points="586.8,451.9 697.8,518.2 697.8,522.8 586.8,456.6" fill="#959595"/>
<polygon points="697.8,518.2 739.8,476.9 739.8,481.6 697.8,522.8" fill="#3c3c3c"/>
<polygon points="586.8,451.9 628.8,410.7 739.8,476.9 697.8,518.2" fill="#d6d6d6"/>
<line x1="698.1" y1="518.4" x2="739.8" y2="477.1" stroke="#f4f4f4" stroke-width="0.7"/>
<polygon points="694.8,504.4 724.3,475.7 724.3,466.2 738.8,474.8 739.8,476.9 730.8,483.2 710.8,496.7" fill="#7a7a7a"/>
<polygon points="724.4,455.7 745.3,469.2 738.8,474.8 724.4,466.2" fill="#9f9f9f"/>
<polygon points="602.3,417.6 694.8,474.9 694.8,504.9 602.3,447.6" fill="#c86602"/>
<polygon points="694.8,474.9 724.3,445.7 724.3,475.7 694.8,504.9" fill="#3f2203"/>
<polygon points="602.3,417.6 632.0,388.2 724.3,445.7 694.8,474.9" fill="#ffa402"/>
<polygon points="646.1,420.4 667.6,431.4 662.6,427.4 643.6,417.6" fill="#d98500"/>
<ellipse cx="669.0" cy="428.3" rx="5" ry="2.6" fill="#d98500" transform="rotate(30 669.0 428.3)"/>
<ellipse cx="643.0" cy="413.8" rx="3.9" ry="4.5" fill="#f59a08" stroke="#8a4a00" stroke-width="0.55"/>
<ellipse cx="642.4" cy="416.2" rx="1.7" ry="2.0" fill="#6a3800"/>
<polygon points="648.4,410.4 667.4,420.2 662.6,427.4 643.6,417.6" fill="#f79b06"/>
<polygon points="646.0,414.0 665.0,423.8 662.6,427.4 643.6,417.6" fill="#d97c02"/>
<polygon points="648.4,410.4 667.4,420.2 662.6,427.4 643.6,417.6" fill="none" stroke="#8a4a00" stroke-width="0.55" stroke-linejoin="round"/>
<ellipse cx="665.0" cy="423.8" rx="2.6" ry="4.0" fill="#e98d06" stroke="#6a3800" stroke-width="0.6" transform="rotate(28 665.0 423.8)"/>
<ellipse cx="667.8" cy="425.6" rx="2.3" ry="2.6" fill="#ffae2a" stroke="#8a4a00" stroke-width="0.45"/>
<rect x="800.1" y="13.5" width="27.8" height="27.4" fill="#f97a0a"/>
<circle cx="822.7" cy="18.7" r="2.2" fill="#ffffff"/>
<text x="719.3 725.6 745 749.6 761.3 768.0 776.2" y="30.7" font-size="24.5" fill="#141414" stroke="#141414" stroke-width="0.75">in site</text>
<rect x="719.8" y="11.6" width="5.4" height="5.4" fill="#ffffff"/>
<rect x="761.8" y="11.6" width="5.4" height="5.4" fill="#ffffff"/>
<circle cx="745.9" cy="14.7" r="1.6" fill="#f97a0a"/>
<text x="793.0" y="18.8" font-size="7" fill="#333">®</text>
<text x="720.6" y="41.9" font-size="6.7" fill="#3c3c3c" stroke="#3c3c3c" stroke-width="0.22" textLength="70.5" lengthAdjust="spacing">planning &amp; building</text>
</svg>
</body></html>
